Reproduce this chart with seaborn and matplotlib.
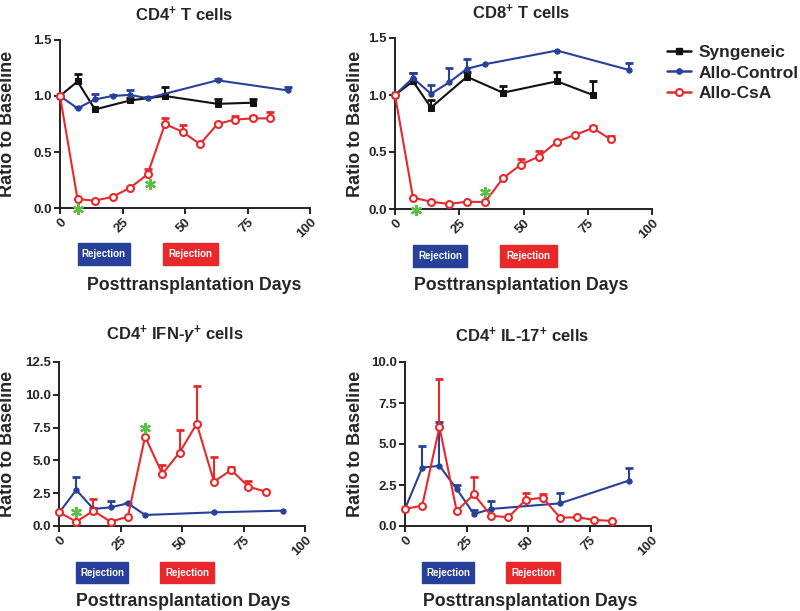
import numpy as np
import matplotlib
matplotlib.use("Agg")
import matplotlib.pyplot as plt
import matplotlib.transforms as mtransforms
from matplotlib.patches import Rectangle
from matplotlib.lines import Line2D
import seaborn as sns

sns.set_theme(style="white")
plt.rcParams['font.family'] = ['Liberation Sans', 'DejaVu Sans']
plt.rcParams['font.weight'] = 'bold'
plt.rcParams['mathtext.fontset'] = 'custom'
plt.rcParams['mathtext.rm'] = 'Liberation Sans:bold'
plt.rcParams['mathtext.bf'] = 'Liberation Sans:bold'
plt.rcParams['mathtext.it'] = 'Liberation Sans:bold:italic'
plt.rcParams['mathtext.default'] = 'bf'

# ---------------- data ----------------
days_syn = [0, 7, 14, 28, 42, 63, 77]
days_ctrl = [0, 7, 14, 21, 28, 35, 63, 91]
days_csa = [0, 7, 14, 21, 28, 35, 42, 49, 56, 63, 70, 77, 84]

cd4_syn = [1.0, 1.13, 0.88, 0.96, 1.00, 0.93, 0.94]
cd4_syn_err = [0, 0.07, 0.0, 0.02, 0.08, 0.04, 0.03]
cd4_ctrl = [1.0, 0.89, 0.97, 1.00, 1.01, 0.98, 1.14, 1.05]
cd4_ctrl_err = [0, 0.01, 0.05, 0.01, 0.04, 0.01, 0.01, 0.03]
cd4_csa = [1.0, 0.08, 0.065, 0.10, 0.18, 0.30, 0.75, 0.68, 0.57, 0.75, 0.79, 0.80, 0.80]
cd4_csa_err = [0, 0, 0, 0, 0.01, 0.05, 0.05, 0.06, 0, 0.01, 0.03, 0.02, 0.055]

cd8_syn = [1.0, 1.12, 0.89, 1.16, 1.02, 1.12, 1.00]
cd8_syn_err = [0, 0.07, 0.07, 0.04, 0.06, 0.08, 0.12]
cd8_ctrl = [1.0, 1.15, 1.01, 1.11, 1.23, 1.27, 1.39, 1.22]
cd8_ctrl_err = [0, 0.04, 0.08, 0.13, 0.09, 0, 0, 0.06]
cd8_csa = [1.0, 0.10, 0.064, 0.044, 0.064, 0.061, 0.27, 0.39, 0.46, 0.59, 0.65, 0.71, 0.61]
cd8_csa_err = [0, 0, 0, 0, 0, 0, 0.01, 0.05, 0.05, 0, 0, 0.02, 0.03]

ifn_ctrl = [1.0, 2.75, 1.30, 1.42, 1.73, 0.84, 1.04, 1.17]
ifn_ctrl_err = [0, 1.0, 0.05, 0.5, 0.05, 0, 0, 0]
ifn_csa = [1.05, 0.33, 1.15, 0.33, 0.71, 6.82, 3.97, 5.60, 7.79, 3.38, 4.27, 3.0, 2.62]
ifn_csa_err = [0, 0, 0.9, 0, 0, 0, 0.7, 1.7, 2.85, 1.9, 0.26, 0.4, 0]

il17_ctrl = [1.04, 3.56, 3.67, 2.26, 0.73, 1.04, 1.38, 2.77]
il17_ctrl_err = [0, 1.33, 2.66, 0.24, 0.25, 0.5, 0.66, 0.75]
il17_csa = [1.04, 1.24, 6.03, 0.92, 1.93, 0.63, 0.53, 1.59, 1.73, 0.51, 0.53, 0.37, 0.31]
il17_csa_err = [0, 0, 2.95, 0, 1.08, 0, 0, 0.45, 0.2, 0, 0, 0, 0]

titles = ["CD4$^{+}$ T cells", "CD8$^{+}$ T cells",
          "CD4$^{+}$ IFN-$\\mathit{\\gamma}^{+}$ cells", "CD4$^{+}$ IL-17$^{+}$ cells"]
series_names = ["Syngeneic", "Allo-Control", "Allo-CsA"]
star_x = [[7, 36], [8, 35], [7, 35], []]
star_y = [[-0.01, 0.21], [-0.01, 0.15], [1.1, 7.5], []]
rejection_days = [(7, 28), (41, 63)]
x_ticks = [0, 25, 50, 75, 100]
y_ticks = [[0, 0.5, 1.0, 1.5], [0, 0.5, 1.0, 1.5],
           [0, 2.5, 5.0, 7.5, 10.0, 12.5], [0, 2.5, 5.0, 7.5, 10.0]]

BLACK = "#111111"
BLUE = "#27409A"
RED = "#E8282B"
GREEN = "#5CBF45"

W, H = 800, 611
fig = plt.figure(figsize=(8, 6.11), dpi=100)

def px_axes(x0, x1, ytop, ybot):
    return fig.add_axes([x0 / W, (H - ybot) / H, (x1 - x0) / W, (ybot - ytop) / H])

axes = [px_axes(60, 310, 40, 208), px_axes(395, 652, 38, 209),
        px_axes(59, 305, 362, 526), px_axes(405, 651, 362, 526)]
box_y = [(243, 265), (245, 267), (562, 583), (562, 583)]
xlabel_y = [285, 285, 601, 601]
xlabel_cx = [194, 521, 183, 530]
title_y = [14, 12, 335, 335]
title_cx = [184, 521, 175, 522]
ylabel_x = [8, 355, 8, 356]

panels = [
    [(days_syn, cd4_syn, cd4_syn_err), (days_ctrl, cd4_ctrl, cd4_ctrl_err), (days_csa, cd4_csa, cd4_csa_err)],
    [(days_syn, cd8_syn, cd8_syn_err), (days_ctrl, cd8_ctrl, cd8_ctrl_err), (days_csa, cd8_csa, cd8_csa_err)],
    [None, (days_ctrl, ifn_ctrl, ifn_ctrl_err), (days_csa, ifn_csa, ifn_csa_err)],
    [None, (days_ctrl, il17_ctrl, il17_ctrl_err), (days_csa, il17_csa, il17_csa_err)],
]
styles = [
    dict(color=BLACK, marker="s", markersize=4.2, markerfacecolor=BLACK, markeredgecolor=BLACK),
    dict(color=BLUE, marker="o", markersize=3.8, markerfacecolor=BLUE, markeredgecolor=BLUE),
    dict(color=RED, marker="o", markersize=5.0, markerfacecolor="white", markeredgecolor=RED,
         markeredgewidth=1.5),
]

for i, ax in enumerate(axes):
    for j, s in enumerate(panels[i]):
        if s is None:
            continue
        d, v, e = np.array(s[0]), np.array(s[1]), np.array(s[2])
        st = styles[j]
        m = e > 0
        ax.errorbar(d[m], v[m], yerr=[np.zeros(m.sum()), e[m]], fmt="none",
                    ecolor=st["color"], elinewidth=1.5, capsize=0, zorder=2, clip_on=False)
        ax.scatter(d[m], v[m] + e[m], marker="_", s=36, linewidths=2.0,
                   color=st["color"], zorder=2, clip_on=False)
        sns.lineplot(x=d, y=v, ax=ax, linewidth=1.5, zorder=3, clip_on=False,
                     estimator=None, sort=False, **st)
    if star_x[i]:
        ax.plot(star_x[i], star_y[i], linestyle="none", marker=(6, 2, 0), markersize=8,
                markeredgewidth=1.6, color=GREEN, clip_on=False, zorder=5)
    ax.set_xlim(0, 100)
    ax.set_ylim(y_ticks[i][0], y_ticks[i][-1])
    ax.set_xticks(x_ticks)
    ax.set_yticks(y_ticks[i])
    ax.set_xticklabels([str(t) for t in x_ticks], rotation=45, ha="right",
                       rotation_mode="anchor", fontsize=9.5, fontweight="bold")
    ax.set_yticklabels([f"{t:.1f}" for t in y_ticks[i]], fontsize=9.5, fontweight="bold")
    ax.set_xlabel("")
    ax.set_ylabel("")
    for sp in ["top", "right"]:
        ax.spines[sp].set_visible(False)
    for sp in ["left", "bottom"]:
        ax.spines[sp].set_linewidth(1.4)
        ax.spines[sp].set_color("#222222")
    ax.tick_params(axis="both", direction="out", length=4, width=1.4, color="#222222",
                   pad=2, left=True, bottom=True)
    pos = ax.get_position()
    cy = pos.y0 + pos.height / 2
    fig.text(ylabel_x[i] / W, cy, "Ratio to Baseline", rotation=90, ha="center",
             va="center", fontsize=13, fontweight="bold")
    fig.text(title_cx[i] / W, (H - title_y[i]) / H, titles[i], ha="center", va="center",
             fontsize=12, fontweight="bold")
    fig.text(xlabel_cx[i] / W, (H - xlabel_y[i]) / H, "Posttransplantation Days",
             ha="center", va="center", fontsize=12.8, fontweight="bold")
    tr = mtransforms.blended_transform_factory(ax.transData, fig.transFigure)
    yt, yb = box_y[i]
    for (a, b), col in zip(rejection_days, [BLUE, RED]):
        ax.add_patch(Rectangle((a, (H - yb) / H), b - a, (yb - yt) / H, transform=tr,
                               facecolor=col, edgecolor=col, clip_on=False))
        ax.text((a + b) / 2, (H - (yt + yb) / 2) / H, "Rejection", transform=tr,
                ha="center", va="center", color="white", fontsize=7, fontweight="bold")

handles = [Line2D([0], [0], linewidth=1.8, **st) for st in styles]
fig.legend(handles, series_names, loc="upper left",
           bbox_to_anchor=(667 / W, (H - 45) / H), frameon=False,
           prop=dict(size=12.5, weight="bold"), handlelength=1.4, handletextpad=0.4,
           labelspacing=0.3, borderpad=0, borderaxespad=0)

fig.savefig("out.png", dpi=100)
